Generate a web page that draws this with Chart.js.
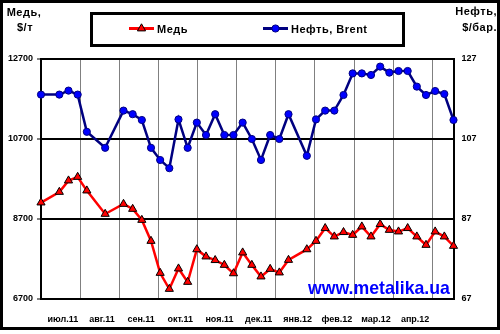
<!DOCTYPE html>
<html lang="ru">
<head>
<meta charset="UTF-8">
<title>Медь и нефть Brent</title>
<script src="https://cdn.jsdelivr.net/npm/chart.js"></script>
<style>
  body { margin: 0; background: #fff; }
  #wrap { position: relative; width: 500px; height: 334px; font-family: "Liberation Sans", Arial, sans-serif; font-weight: bold; color: #000; }
  #chart { position: absolute; left: 0; top: 0; }
  #frame { position: absolute; left: 0; top: 0; width: 500px; height: 330px; border: 3px solid #000; box-sizing: border-box; }
  #legend { position: absolute; left: 90px; top: 12px; width: 315px; height: 35px; border: 3px solid #000; box-sizing: border-box; background: #fff; }
  .txt { position: absolute; font-size: 11px; line-height: 11px; letter-spacing: 0.5px; white-space: nowrap; }
  .sample { position: absolute; }
  #site { position: absolute; left: 308px; top: 280px; font-size: 17.7px; line-height: 17.7px; color: #0000ff; white-space: nowrap; }
</style>
</head>
<body>
<div id="wrap">
  <canvas id="chart" width="500" height="334"></canvas>
  <div id="frame"></div>

  <div class="txt" style="left:0; width:48px; text-align:center; top:7px;">Медь,</div>
  <div class="txt" style="left:1px; width:48px; text-align:center; top:22px;">$/т</div>
  <div class="txt" style="right:3px; text-align:right; top:6px;">Нефть,</div>
  <div class="txt" style="right:3px; text-align:right; top:22px;">$/бар.</div>

  <div id="legend"></div>
  <svg class="sample" style="left:128px; top:22px;" width="28" height="13">
    <line x1="1" y1="6.5" x2="26" y2="6.5" stroke="#ff0000" stroke-width="3"/>
    <polygon points="13.5,1.8 17.6,8.9 9.4,8.9" fill="#ff0000" stroke="#000" stroke-width="1"/>
  </svg>
  <div class="txt" style="left:157px; top:24px;">Медь</div>
  <svg class="sample" style="left:262px; top:22px;" width="28" height="13">
    <line x1="1" y1="6.5" x2="26" y2="6.5" stroke="#000080" stroke-width="3"/>
    <circle cx="13.5" cy="6.5" r="3.6" fill="#0000ff" stroke="#000080" stroke-width="1"/>
  </svg>
  <div class="txt" style="left:291px; top:24px;">Нефть, Brent</div>

  <div id="site">www.metalika.ua</div>
</div>

<script>
    // week number of each quotation (gaps = weeks without data)
    var weeks = [0, 2, 3, 4, 5, 7, 9, 10, 11, 12, 13, 14, 15, 16, 17, 18, 19, 20, 21, 22, 23,
                 24, 25, 26, 27, 29, 30, 31, 32, 33, 34, 35, 36, 37, 38, 39, 40, 41, 42, 43, 44, 45];

    // copper, $/t
    var copper = [9110, 9375, 9660, 9750, 9410, 8825, 9075, 8950, 8675, 8150, 7350, 6950, 7460, 7125, 7940,
                  7760, 7670, 7550, 7340, 7860, 7550, 7260, 7450, 7360, 7675, 7940, 8150, 8470, 8260, 8370,
                  8300, 8510, 8260, 8570, 8425, 8385, 8470, 8260, 8050, 8385, 8260, 8025];

    // Brent oil, $/bbl
    var brent = [118.1, 118.1, 119.1, 118.1, 108.8, 104.8, 114.1, 113.2, 111.75, 104.8, 101.75, 99.7, 111.9,
                 104.8, 111.1, 108, 113.2, 108, 108, 111.1, 107, 101.75, 108, 107, 113.2, 102.8, 111.9, 114.1,
                 114.1, 118, 123.4, 123.4, 123, 125.1, 123.6, 124, 124, 120.1, 118, 119, 118.25, 111.75];

    var months = ['июл.11', 'авг.11', 'сен.11', 'окт.11', 'ноя.11', 'дек.11', 'янв.12', 'фев.12', 'мар.12', 'апр.12'];
    var copperTicks = [6700, 8700, 10700, 12700];
    var brentTicks = [67, 87, 107, 127];

    var weeksPerMonth = 4.27;

    Chart.defaults.font.family = '"Liberation Sans", Arial, sans-serif';
    Chart.defaults.font.weight = 'bold';
    Chart.defaults.font.size = 9;
    Chart.defaults.color = '#000';

    var ctx = document.getElementById('chart').getContext('2d');

    var chart = new Chart(ctx, {
        type: 'line',
        data: {
            datasets: [{
                label: 'Медь',
                data: weeks.map(function(w, i) { return { x: w, y: copper[i] }; }),
                xAxisID: 'x',
                yAxisID: 'y',
                borderColor: '#ff0000',
                borderWidth: 2.5,
                pointStyle: 'triangle',
                pointRadius: 4.7,
                pointBackgroundColor: '#ff0000',
                pointBorderColor: '#000',
                pointBorderWidth: 1,
                tension: 0,
                clip: false
            }, {
                label: 'Нефть, Brent',
                data: weeks.map(function(w, i) { return { x: w, y: brent[i] }; }),
                xAxisID: 'x',
                yAxisID: 'y2',
                borderColor: '#000080',
                borderWidth: 2.5,
                pointStyle: 'circle',
                pointRadius: 3.6,
                pointBackgroundColor: '#0000ff',
                pointBorderColor: '#000080',
                pointBorderWidth: 1,
                tension: 0,
                clip: false
            }]
        },
        options: {
            responsive: false,
            animation: false,
            layout: { padding: { top: 59, left: 0, right: 0, bottom: 0 } },
            plugins: { legend: { display: false }, tooltip: { enabled: false } },
            scales: {
                // month boundaries
                x: {
                    type: 'linear', position: 'bottom', min: 0, max: 45,
                    afterBuildTicks: function(s) {
                        s.ticks = months.map(function(m, i) { return { value: (i + 1) * weeksPerMonth }; });
                    },
                    afterFit: function(s) { s.height = 0; },
                    ticks: { display: false },
                    grid: { color: '#808080', lineWidth: 1, drawTicks: false },
                    border: { color: '#000', width: 2 }
                },
                // month names, centred between boundaries
                xm: {
                    type: 'linear', position: 'bottom', min: 0, max: 45,
                    afterBuildTicks: function(s) {
                        s.ticks = months.map(function(m, i) { return { value: (i + 0.5) * weeksPerMonth + 0.25 }; });
                    },
                    afterFit: function(s) { s.height = 35; },
                    grid: { display: false },
                    border: { display: false },
                    ticks: {
                        autoSkip: false, maxRotation: 0, padding: 7,
                        callback: function(v, i) { return months[i]; }
                    }
                },
                y: {
                    position: 'left', min: 6700, max: 12700,
                    afterBuildTicks: function(s) {
                        s.ticks = copperTicks.map(function(v) { return { value: v }; });
                    },
                    afterFit: function(s) { s.width = 41; },
                    grid: { color: '#000', lineWidth: 2, tickLength: 4, tickColor: '#000', tickWidth: 1 },
                    border: { color: '#000', width: 2 },
                    ticks: { padding: 4, callback: function(v) { return String(v); } }
                },
                y2: {
                    position: 'right', min: 67, max: 127,
                    afterBuildTicks: function(s) {
                        s.ticks = brentTicks.map(function(v) { return { value: v }; });
                    },
                    afterFit: function(s) { s.width = 46.5; },
                    grid: { drawOnChartArea: false, drawTicks: false },
                    border: { color: '#000', width: 2 },
                    ticks: { padding: 8, callback: function(v) { return String(v); } }
                }
            }
        }
    });
</script>
</body>
</html>
